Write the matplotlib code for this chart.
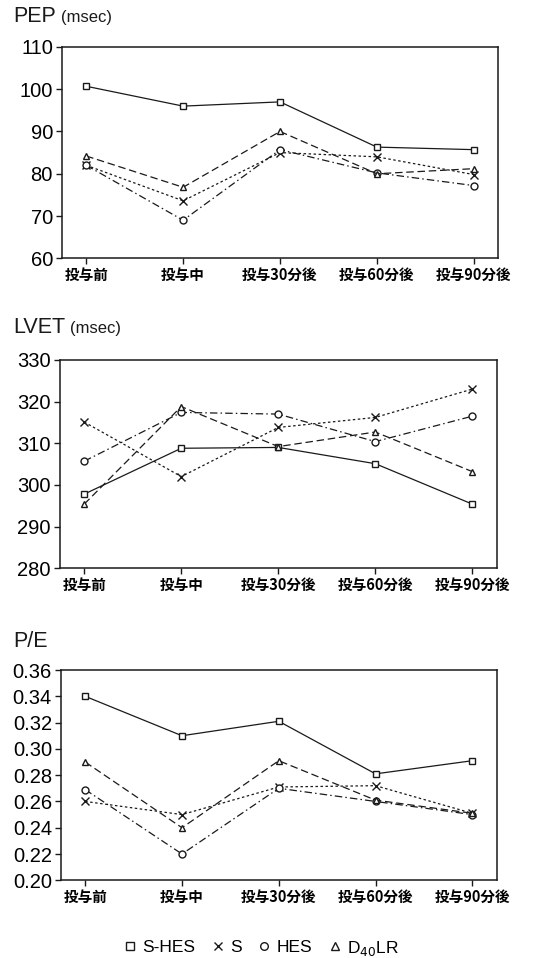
import matplotlib
matplotlib.use("Agg")
import matplotlib.pyplot as plt
from matplotlib.lines import Line2D

plt.rcParams['font.family'] = ['Liberation Sans', 'Noto Sans CJK JP', 'DejaVu Sans']

categories = ['投与前', '投与中', '投与30分後', '投与60分後', '投与90分後']
series_names = ['S-HES', 'S', 'HES', 'D$_{40}$LR']

pep_shes = [100.7, 96.0, 97.0, 86.3, 85.7]
pep_s = [82.0, 73.6, 85.0, 84.0, 79.8]
pep_hes = [82.0, 69.0, 85.7, 80.2, 77.2]
pep_d40 = [84.2, 76.8, 90.0, 80.0, 81.2]

lvet_shes = [297.8, 308.8, 309.0, 305.1, 295.4]
lvet_s = [315.1, 302.0, 313.8, 316.2, 323.0]
lvet_hes = [305.7, 317.4, 317.0, 310.4, 316.5]
lvet_d40 = [295.4, 318.8, 309.2, 312.7, 303.2]

pe_shes = [0.340, 0.310, 0.321, 0.281, 0.291]
pe_s = [0.260, 0.250, 0.271, 0.272, 0.251]
pe_hes = [0.269, 0.220, 0.270, 0.260, 0.250]
pe_d40 = [0.290, 0.240, 0.291, 0.261, 0.251]

pep_ticks = [60, 70, 80, 90, 100, 110]
lvet_ticks = [280, 290, 300, 310, 320, 330]
pe_ticks = [0.20, 0.22, 0.24, 0.26, 0.28, 0.30, 0.32, 0.34, 0.36]

markers = ['s', 'x', 'o', '^']
styles = ['-', (0, (2.0, 2.0)), (0, (6, 2.5, 1.2, 2.5)), (0, (6, 3))]

fig = plt.figure(figsize=(5.39, 9.58), dpi=100)

panels = [
    ([0.115, 0.7304, 0.809, 0.2206], [pep_shes, pep_s, pep_hes, pep_d40], pep_ticks,
     ['{:d}'.format(t) for t in pep_ticks], 'PEP', '(msec)', 22),
    ([0.1113, 0.4068, 0.810, 0.2175], [lvet_shes, lvet_s, lvet_hes, lvet_d40], lvet_ticks,
     ['{:d}'.format(t) for t in lvet_ticks], 'LVET', '(msec)', 333),
    ([0.1132, 0.0811, 0.808, 0.2195], [pe_shes, pe_s, pe_hes, pe_d40], pe_ticks,
     ['{:.2f}'.format(t) for t in pe_ticks], 'P/E', '', 647),
]

xs = list(range(len(categories)))
for rect, data, yt, ytl, title, unit, base_px in panels:
    ax = fig.add_axes(rect)
    for vals, m, ls in zip(data, markers, styles):
        ax.plot(xs, vals, linestyle=ls, color='#1a1a1a', linewidth=0.9,
                marker=m, markersize=5 if m != 'x' else 5.5,
                markerfacecolor='white', markeredgecolor='#1a1a1a',
                markeredgewidth=1.0)
    ax.set_xlim(-0.25, 4.25)
    ax.set_ylim(yt[0], yt[-1])
    ax.set_yticks(yt)
    ax.set_yticklabels(ytl, fontsize=14.5)
    ax.set_xticks(xs)
    ax.set_xticklabels(categories, fontsize=10.5, fontweight='bold',
                       family=['Noto Sans CJK JP', 'DejaVu Sans'])
    ax.tick_params(axis='both', direction='out', length=4.5, width=1.0,
                   color='#1a1a1a', pad=2)
    for sp in ax.spines.values():
        sp.set_linewidth(1.1)
        sp.set_color('#1a1a1a')
    yb = 1 - base_px / 958
    t = fig.text(0.024, yb, title, fontsize=15.5, ha='left', va='baseline', color='#1a1a1a')
    if unit:
        fig.canvas.draw()
        bb = t.get_window_extent()
        fig.text(bb.x1 / 539 + 0.01, yb, unit, fontsize=12, ha='left',
                 va='baseline', color='#1a1a1a')

handles = [Line2D([], [], linestyle='none', marker=m, markersize=5.5,
                  markerfacecolor='white', markeredgecolor='#1a1a1a',
                  markeredgewidth=1.0) for m in markers]
fig.legend(handles, series_names, loc='center', bbox_to_anchor=(262 / 539, 1 - 948 / 958),
           ncol=4, frameon=False, fontsize=12.5, handlelength=0.6, handletextpad=0.4,
           columnspacing=1.0)

fig.savefig('out.png', dpi=100, facecolor='white')
